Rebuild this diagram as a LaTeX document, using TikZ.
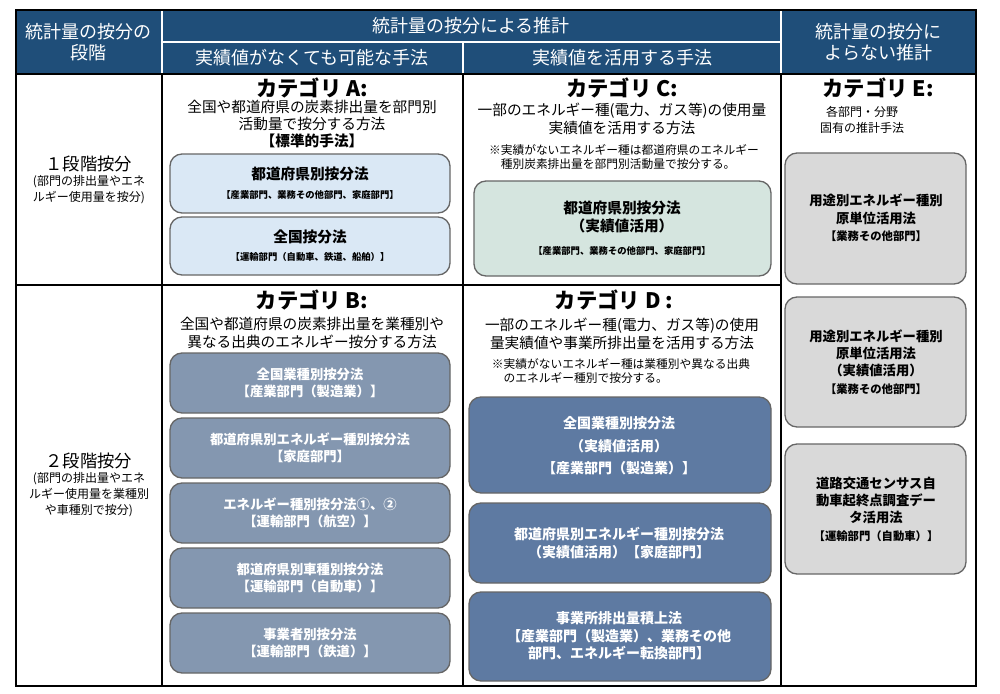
\documentclass[tikz,border=0pt]{standalone}
\usepackage{fontspec}
\setmainfont{Noto Sans CJK JP}
\definecolor{hdr}{HTML}{1F4E79}
\definecolor{boxA}{HTML}{DAE8F5}
\definecolor{boxC}{HTML}{D5E5DF}
\definecolor{boxB}{HTML}{8497B0}
\definecolor{boxD}{HTML}{5E7AA2}
\definecolor{boxE}{HTML}{D9D9D9}
\begin{document}
\begin{tikzpicture}[x=0.75pt,y=-0.75pt,
  hd/.style={text=white,font=\fontsize{13.5}{16}\selectfont,align=center},
  cat/.style={font=\fontsize{16}{17}\selectfont\bfseries,inner sep=0pt},
  body/.style={font=\fontsize{11}{13}\selectfont,align=center,inner sep=0pt},
  note/.style={font=\fontsize{8.8}{11}\selectfont,align=left,inner sep=0pt},
  rbox/.style={draw=gray!80!black,line width=1pt,rounded corners=9pt},
  sm/.style={font=\fontsize{7}{8}\selectfont\bfseries}]
\useasboundingbox (0,0) rectangle (1000,693);
% header
\fill[hdr] (16,10) rectangle (976,74);
\draw[white,line width=1pt] (162,42) -- (781,42);
\draw[white,line width=1pt] (162,10) -- (162,74) (781,10) -- (781,74) (463,42) -- (463,74);
\node[hd] (h1) at (89,42) {統計量の按分の\\段階};
\node[hd] (h2) at (471,26) {統計量の按分による推計};
\node[hd] (h3) at (312,58) {実績値がなくても可能な手法};
\node[hd] (h4) at (622,58) {実績値を活用する手法};
\node[hd] (h5) at (878,42) {統計量の按分に\\よらない推計};
% grid
\draw[line width=1.2pt] (16,10) rectangle (976,686);
\draw[line width=1.2pt] (162,74) -- (162,686) (463,74) -- (463,686) (781,74) -- (781,686);
\draw[line width=1.2pt] (16,285) -- (781,285) (16,74) -- (976,74);
% row labels
\node[align=center,inner sep=0pt] (r1) at (89,180) {{\fontsize{13}{15}\selectfont １段階按分}\\[-1pt]{\fontsize{9}{11.5}\selectfont (部門の排出量やエネ}\\{\fontsize{9}{11.5}\selectfont ルギー使用量を按分)}};
\node[align=center,inner sep=0pt] (r2) at (89,485) {{\fontsize{13}{15}\selectfont ２段階按分}\\[-1pt]{\fontsize{9}{11.5}\selectfont (部門の排出量やエネ}\\{\fontsize{9}{11.5}\selectfont ルギー使用量を業種別}\\{\fontsize{9}{11.5}\selectfont や車種別で按分)}};
% Category A
\node[cat] (ca) at (312,88) {カテゴリ A:};
\node[body] (ta) at (312,124) {全国や都道府県の炭素排出量を部門別\\活動量で按分する方法\\{\bfseries 【標準的手法】}};
\draw[rbox,fill=boxA] (170,154) rectangle (450,213);
\node[font=\fontsize{11}{12}\selectfont\bfseries] (a1t) at (310,174) {都道府県別按分法};
\node[sm] (a1s) at (310,195) {【産業部門、業務その他部門、家庭部門】};
\draw[rbox,fill=boxA] (170,217) rectangle (450,275);
\node[font=\fontsize{11}{12}\selectfont\bfseries] (a2t) at (310,237) {全国按分法};
\node[sm] (a2s) at (310,257) {【運輸部門（自動車、鉄道、船舶）】};
% Category C
\node[cat] (cc) at (622,88) {カテゴリ C:};
\node[body] (tc) at (622,119) {一部のエネルギー種(電力、ガス等)の使用量\\実績値を活用する方法};
\node[note] (nc) at (624,157) {※実績がないエネルギー種は都道府県のエネルギー\\\hspace*{1em}種別炭素排出量を部門別活動量で按分する。};
\draw[rbox,fill=boxC] (474,181) rectangle (771,276);
\node[align=center,font=\fontsize{11}{14}\selectfont\bfseries] (c1t) at (622,217) {都道府県別按分法\\（実績値活用）};
\node[sm] (c1s) at (622,251) {【産業部門、業務その他部門、家庭部門】};
% Category E
\node[cat] (ce) at (878,88) {カテゴリ E:};
\node[align=center,font=\fontsize{9}{12}\selectfont] (te) at (862,120) {各部門・分野\\固有の推計手法};
\draw[rbox,fill=boxE] (785,153) rectangle (966,284);
\node[align=center,font=\fontsize{10}{13}\selectfont\bfseries] (e1) at (876,218) {用途別エネルギー種別\\原単位活用法\\{\fontsize{8.5}{11}\selectfont 【業務その他部門】}};
\draw[rbox,fill=boxE] (785,297) rectangle (966,427);
\node[align=center,font=\fontsize{10}{13}\selectfont\bfseries] (e2) at (876,362) {用途別エネルギー種別\\原単位活用法\\（実績値活用）\\{\fontsize{8.5}{11}\selectfont 【業務その他部門】}};
\draw[rbox,fill=boxE] (785,444) rectangle (966,574);
\node[align=center,font=\fontsize{10}{13}\selectfont\bfseries] (e3) at (876,509) {道路交通センサス自\\動車起終点調査デー\\タ活用法\\{\fontsize{8.5}{11}\selectfont 【運輸部門（自動車）】}};
% Category B
\node[cat] (cb) at (312,300) {カテゴリ B:};
\node[body] (tb) at (312,333) {全国や都道府県の炭素排出量を業種別や\\異なる出典のエネルギー按分する方法};
\foreach \n/\ya/\yb/\t in {b1/353/413/{全国業種別按分法\\【産業部門（製造業）】},
  b2/418/478/{都道府県別エネルギー種別按分法\\【家庭部門】},
  b3/483/543/{エネルギー種別按分法①、②\\【運輸部門（航空）】},
  b4/548/608/{都道府県別車種別按分法\\【運輸部門（自動車）】},
  b5/613/673/{事業者別按分法\\【運輸部門（鉄道）】}}{
  \draw[rbox,fill=boxB] (170,\ya) rectangle (450,\yb);
  \node[align=center,text=white,font=\fontsize{10}{13}\selectfont\bfseries] (\n) at (310,{(\ya+\yb)/2}) {\t};
}
% Category D
\node[cat] (cd) at (614,300) {カテゴリ D :};
\node[body] (td) at (622,334) {一部のエネルギー種(電力、ガス等)の使用\\量実績値や事業所排出量を活用する方法};
\node[note] (nd) at (621,371) {※実績がないエネルギー種は業種別や異なる出典\\\hspace*{1em}のエネルギー種別で按分する。};
\draw[rbox,fill=boxD] (469,397) rectangle (771,493);
\node[align=center,text=white,font=\fontsize{10.5}{17}\selectfont\bfseries] (d1) at (619,446) {全国業種別按分法\\（実績値活用）\\【産業部門（製造業）】};
\draw[rbox,fill=boxD] (469,503) rectangle (771,583);
\node[align=center,text=white,font=\fontsize{10.5}{13}\selectfont\bfseries] (d2) at (619,543) {都道府県別エネルギー種別按分法\\（実績値活用）【家庭部門】};
\draw[rbox,fill=boxD] (469,592) rectangle (771,681);
\node[align=center,text=white,font=\fontsize{10.5}{13}\selectfont\bfseries] (d3) at (619,636) {事業所排出量積上法\\【産業部門（製造業）、業務その他\\部門、エネルギー転換部門】};
\end{tikzpicture}
\end{document}
